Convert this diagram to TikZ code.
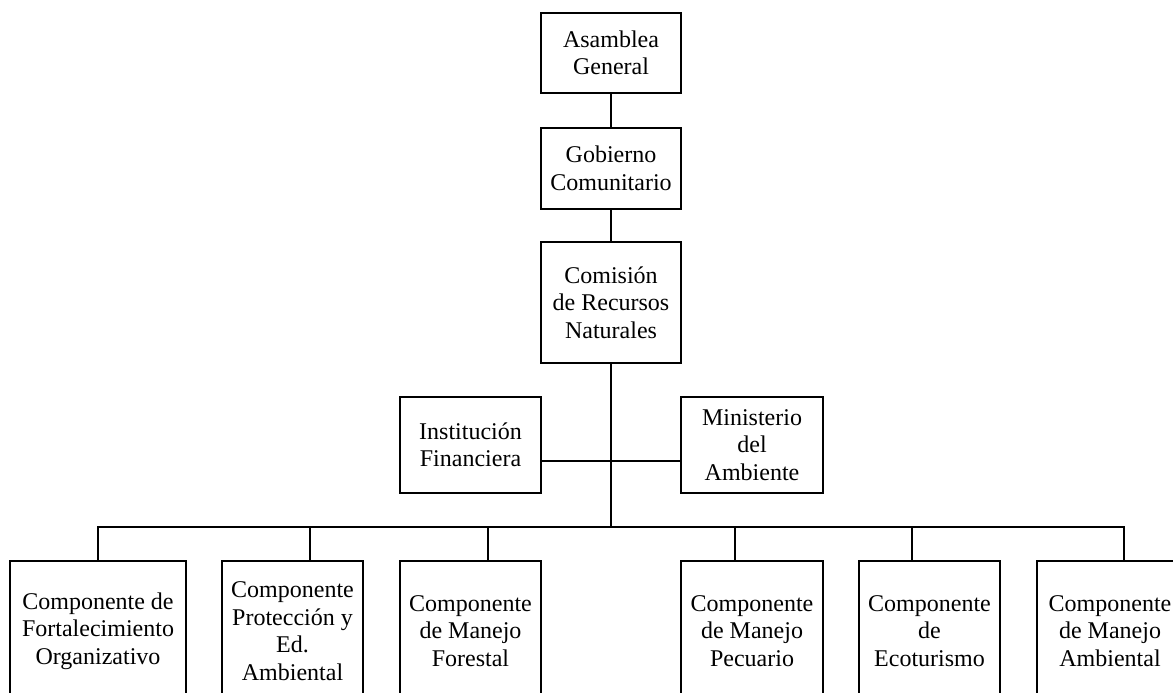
\documentclass[tikz,border=0pt]{standalone}
\usepackage{fontspec}
\setmainfont{Liberation Serif}
\begin{document}
\begin{tikzpicture}[x=1pt,y=-1pt,
  box/.style={draw,line width=2pt,inner sep=0pt,align=center,
    font=\fontsize{24}{27.5}\selectfont},
  conn/.style={line width=2pt}]
\useasboundingbox (0,0) rectangle (1173,693);
\clip (0,0) rectangle (1173,693);
% top chain
\node[box,minimum width=140pt,minimum height=80pt] (a) at (611,53) {Asamblea\\General};
\node[box,minimum width=140pt,minimum height=81pt] (g) at (611,168.5) {Gobierno\\Comunitario};
\node[box,minimum width=140pt,minimum height=121pt] (c) at (611,302.5) {Comisión\\de Recursos\\Naturales};
% side boxes
\node[box,minimum width=141pt,minimum height=96pt] (inst) at (470.5,445) {Institución\\Financiera};
\node[box,minimum width=142pt,minimum height=96pt] (mini) at (752,445) {Ministerio\\del\\Ambiente};
% bottom boxes
\node[box,minimum width=176pt,minimum height=140pt] (b1) at (98,631) {Componente de\\Fortalecimiento\\Organizativo};
\node[box,minimum width=141pt,minimum height=140pt] (b2) at (292.5,631) {Componente\\Protección y\\Ed.\\Ambiental};
\node[box,minimum width=141pt,minimum height=140pt] (b3) at (470.5,631) {Componente\\de Manejo\\Forestal};
\node[box,minimum width=142pt,minimum height=140pt] (b4) at (752,631) {Componente\\de Manejo\\Pecuario};
\node[box,minimum width=141pt,minimum height=140pt] (b5) at (929.5,631) {Componente\\de\\Ecoturismo};
\node[box,minimum width=146pt,minimum height=140pt] (b6) at (1110,631) {Componente\\de Manejo\\Ambiental};
% coordinates
\coordinate (hub) at (611,527);
\coordinate (h) at (611,461);
\coordinate (d1) at (98,527);
\coordinate (d2) at (310,527);
\coordinate (d3) at (488,527);
\coordinate (d4) at (735,527);
\coordinate (d5) at (912,527);
\coordinate (d6) at (1124,527);
% connectors
\draw[conn] (a.south) -- (g.north);
\draw[conn] (g.south) -- (c.north);
\draw[conn] (c.south) -- (hub);
\draw[conn] (h -| inst.east) -- (h -| mini.west);
\draw[conn,line cap=rect] (d1) -- (d6);
\draw[conn] (d1) -- (d1 |- b1.north);
\draw[conn] (d2) -- (d2 |- b2.north);
\draw[conn] (d3) -- (d3 |- b3.north);
\draw[conn] (d4) -- (d4 |- b4.north);
\draw[conn] (d5) -- (d5 |- b5.north);
\draw[conn] (d6) -- (d6 |- b6.north);
\end{tikzpicture}
\end{document}
